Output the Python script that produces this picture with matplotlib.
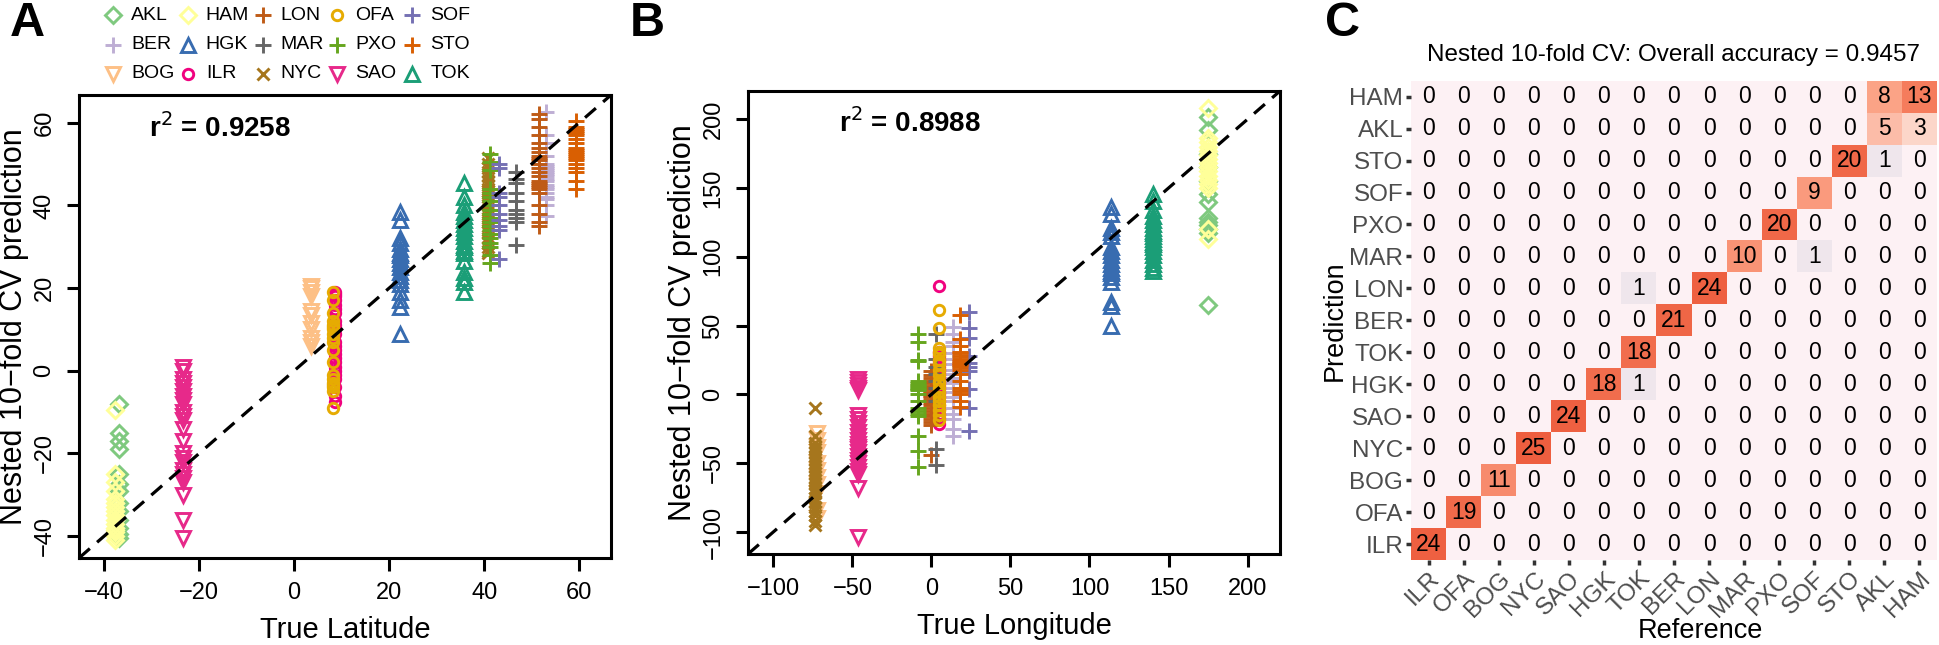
import numpy as np
import matplotlib.pyplot as plt
from matplotlib.lines import Line2D
from matplotlib.colors import LinearSegmentedColormap

plt.rcParams['font.family'] = ['Liberation Sans', 'DejaVu Sans']

# ---- data ----
cities = ["AKL", "BER", "BOG", "HAM", "HGK", "ILR", "LON", "MAR",
          "NYC", "OFA", "PXO", "SAO", "SOF", "STO", "TOK"]
true_lat = [-36.8, 53.0, 3.5, -37.8, 22.3, 8.5, 51.5, 46.6,
            40.7, 8.2, 41.2, -23.5, 43.2, 59.3, 35.7]
true_lon = [174.8, 13.4, -72.5, 175.0, 113.6, 4.6, -0.2, 3.0,
            -73.8, 4.5, -8.4, -46.2, 23.6, 18.1, 140.2]

akl_lat = [-8, -15, -17, -19, -25, -27.5, -29, -32, -34, -36, -38, -39.5, -40.5]
ber_lat = [62.5, 57, 55, 52, 50, 49.5, 49, 48.5, 48, 47.5, 47, 46.5, 46, 45, 44.5,
           44, 43, 42, 41.5, 40, 37.5]
bog_lat = [20.5, 20, 19, 18, 14.5, 13.5, 11.5, 10, 8, 7, 6]
ham_lat = [-9.5, -25, -27, -29, -31, -32, -33, -34, -35, -36, -37, -38, -38.5, -39, -40, -41]
hgk_lat = [38.5, 36.5, 32, 31, 29.5, 28.5, 28, 27, 26, 25, 24, 23, 22, 21, 19, 17, 15.5, 9]
ilr_lat = [19, 18.5, 18, 17, 16, 15, 14, 12, 11, 10, 9, 7, 6, 5, 4, 3, 2, 1, 0, -1,
           -2, -4, -6, -7.5]
lon_lat = [62, 61, 59, 57, 55, 54, 53, 52, 51.5, 51, 50, 49, 48, 47, 46, 45.5, 45,
           44.5, 44, 43, 40, 38, 36, 35]
mar_lat = [48, 46.5, 45.5, 43, 41, 39, 38, 37, 36, 30.5]
nyc_lat = [51.5, 50, 49, 48, 47, 46, 45, 44, 43.5, 43, 42, 41, 40, 39, 38, 37, 36, 35,
           34, 33.5, 32, 31, 30, 29, 28.5]
ofa_lat = [19, 17, 14, 12, 11, 10.5, 10, 9, 8, 7, 5, 2, -1, -2, -3, -3.5, -4, -5, -9]
pxo_lat = [52.5, 50.5, 48.5, 44, 43, 42, 41, 40, 39, 38, 37, 36, 35, 34, 33, 32, 31,
           30, 28, 26]
sao_lat = [1, 0, -2, -3, -4, -5, -6, -7, -8, -10, -11, -12, -14, -17, -20, -21, -22,
           -24, -25, -26, -27, -30, -36, -40.5]
sof_lat = [50, 49, 43, 42, 40, 38, 36.5, 35, 34, 27]
sto_lat = [60.5, 59, 58.5, 58, 57.5, 57, 56, 55, 54, 53.5, 53, 52.5, 52, 51.5, 51, 50,
           49, 48, 46, 44]
tok_lat = [45.5, 42, 40, 38.5, 37.5, 36.5, 35.5, 34.5, 33.5, 32.5, 31.5, 30.5, 30, 29,
           28.5, 26.5, 24, 22.5, 21.5, 19]

akl_lon = [201.5, 192.5, 175, 165, 155, 146, 140, 128, 125, 123, 120, 117, 65]
ber_lon = [49, 44, 38, 35, 30, 26, 22, 18, 15, 12, 10, 8, 5, 2, -2, -5, -10, -14, -18,
           -25, -30]
bog_lon = [-28, -33, -38, -42, -50, -55, -60, -65, -72, -84, -90]
ham_lon = [208, 186.5, 183.5, 180, 177, 174, 171, 168, 165, 162, 159, 156, 153, 150,
           120, 113]
hgk_lon = [136, 131, 121, 118, 115, 107, 104, 101, 98, 95, 92, 90, 88, 85, 82, 67, 64, 50]
ilr_lon = [79, 31, 28, 26, 24, 22, 20, 18, 16, 14, 12, 10, 8, 6, 4, 2, 0, -2, -5, -8,
           -11, -14, -17, -21.5]
lon_lon = [17, 14, 12, 10, 8, 6, 5, 4, 2, 1, 0, -1, -2, -4, -6, -8, -10, -12, -14, -16,
           -18, -20, -22, -44]
mar_lon = [44, 26, 20, 15, 10, 5, 0, -5, -39.5, -51]
nyc_lon = [-10, -30, -35, -38, -40, -42, -45, -47, -50, -52, -55, -57, -60, -62, -65,
           -68, -70, -72, -75, -78, -82, -85, -88, -92, -95]
ofa_lon = [61.5, 48, 34, 31, 29, 25, 22, 18, 14, 10, 8, 5, 2, -2, -5, -8, -11, -15, -18.5]
pxo_lon = [44, 38, 25, 24, 10, 8, 7, 6, 5, 4, 3, 0, -5, -10, -12, -14, -16, -30, -41, -53]
sao_lon = [11, 9, 7, 5, 3, -15, -18, -21, -24, -27, -30, -33, -36, -38, -40, -42, -45,
           -48, -50, -53, -56, -58, -68, -104]
sof_lon = [60, 48.5, 41, 28, 23, 20, 17, 4, -10, -26.5]
sto_lon = [58, 40, 35, 31, 30, 28, 26, 24, 23, 22, 21, 20, 18, 15, 10, 5, 2.5, 0, -5, -9.5]
tok_lon = [145.5, 140.5, 134, 130, 127, 124, 121, 119, 117, 115, 113, 111, 109, 107,
           104, 101, 98, 95, 92, 89.5]

r2_lat = 0.9258
r2_lon = 0.8988

# confusion matrix: rows = prediction, cols = reference, both in class_order
class_order = ["ILR", "OFA", "BOG", "NYC", "SAO", "HGK", "TOK", "BER",
               "LON", "MAR", "PXO", "SOF", "STO", "AKL", "HAM"]
conf_counts = [
    [24, 0, 0, 0, 0, 0, 0, 0, 0, 0, 0, 0, 0, 0, 0],
    [0, 19, 0, 0, 0, 0, 0, 0, 0, 0, 0, 0, 0, 0, 0],
    [0, 0, 11, 0, 0, 0, 0, 0, 0, 0, 0, 0, 0, 0, 0],
    [0, 0, 0, 25, 0, 0, 0, 0, 0, 0, 0, 0, 0, 0, 0],
    [0, 0, 0, 0, 24, 0, 0, 0, 0, 0, 0, 0, 0, 0, 0],
    [0, 0, 0, 0, 0, 18, 1, 0, 0, 0, 0, 0, 0, 0, 0],
    [0, 0, 0, 0, 0, 0, 18, 0, 0, 0, 0, 0, 0, 0, 0],
    [0, 0, 0, 0, 0, 0, 0, 21, 0, 0, 0, 0, 0, 0, 0],
    [0, 0, 0, 0, 0, 0, 1, 0, 24, 0, 0, 0, 0, 0, 0],
    [0, 0, 0, 0, 0, 0, 0, 0, 0, 10, 0, 1, 0, 0, 0],
    [0, 0, 0, 0, 0, 0, 0, 0, 0, 0, 20, 0, 0, 0, 0],
    [0, 0, 0, 0, 0, 0, 0, 0, 0, 0, 0, 9, 0, 0, 0],
    [0, 0, 0, 0, 0, 0, 0, 0, 0, 0, 0, 0, 20, 1, 0],
    [0, 0, 0, 0, 0, 0, 0, 0, 0, 0, 0, 0, 0, 5, 3],
    [0, 0, 0, 0, 0, 0, 0, 0, 0, 0, 0, 0, 0, 8, 13],
]
accuracy = 0.9457

lat_preds = [akl_lat, ber_lat, bog_lat, ham_lat, hgk_lat, ilr_lat, lon_lat, mar_lat,
             nyc_lat, ofa_lat, pxo_lat, sao_lat, sof_lat, sto_lat, tok_lat]
lon_preds = [akl_lon, ber_lon, bog_lon, ham_lon, hgk_lon, ilr_lon, lon_lon, mar_lon,
             nyc_lon, ofa_lon, pxo_lon, sao_lon, sof_lon, sto_lon, tok_lon]

# ---- style ----
city_colors = ["#7FC97F", "#BEAED4", "#FDC086", "#FFFF99", "#386CB0", "#F0027F",
               "#BF5B17", "#666666", "#A6761D", "#E6AB02", "#66A61E", "#E7298A",
               "#7570B3", "#D95F02", "#1B9E77"]
city_markers = ["D", "+", "v", "D", "^", "o", "+", "+", "x", "o", "+", "v", "+", "+", "^"]
msize = {"D": 8, "+": 12, "v": 10.5, "^": 10.5, "o": 7.5, "x": 8.5}

W, H = 1940, 645
fig = plt.figure(figsize=(W / 100, H / 100), dpi=100)


def fx(px):
    return px / W


def fy(py):
    return 1 - py / H


def scatter_panel(ax, truth, preds, lims, ticks, xlabel, r2, r2pos):
    for i in range(len(cities)):
        mk = city_markers[i]
        ax.plot(np.full(len(preds[i]), truth[i]), preds[i], linestyle="none",
                marker=mk, ms=msize[mk], mfc="none", mec=city_colors[i], mew=2.1)
    ax.axline((0, 0), slope=1, color="black", lw=2.3, ls=(0, (4.5, 3)))
    ax.set_xlim(lims)
    ax.set_ylim(lims)
    ax.set_xticks(ticks)
    ax.set_yticks(ticks)
    for s in ax.spines.values():
        s.set_linewidth(2.2)
    ax.tick_params(length=9, width=2.2, labelsize=17, pad=8)
    for lbl in ax.get_yticklabels():
        lbl.set_rotation(90)
        lbl.set_va("center")
    ax.set_xlabel(xlabel, fontsize=21, labelpad=9)
    ax.set_ylabel("Nested 10\u2212fold CV prediction", fontsize=22, labelpad=3)
    ax.text(r2pos[0], r2pos[1], "r$^2$ = %.4f" % r2, transform=ax.transAxes,
            fontsize=20, fontweight="bold", ha="center", va="center")


axA = fig.add_axes([fx(79), fy(558), fx(611 - 79), (558 - 95) / H])
scatter_panel(axA, true_lat, lat_preds, (-45.3, 66.7), [-40, -20, 0, 20, 40, 60],
              "True Latitude", r2_lat, (0.265, 0.929))

axB = fig.add_axes([fx(748), fy(554), fx(1280 - 748), (554 - 91) / H])
scatter_panel(axB, true_lon, lon_preds, (-116, 220.5), [-100, -50, 0, 50, 100, 150, 200],
              "True Longitude", r2_lon, (0.305, 0.931))

# legend, 3 rows x 5 columns, filled column-wise
for i, name in enumerate(cities):
    col, row = i // 3, i % 3
    x0 = 113 + col * 74.8
    y0 = 15 + row * 29.5
    mk = city_markers[i]
    fig.add_artist(Line2D([fx(x0)], [fy(y0)], transform=fig.transFigure, marker=mk,
                          ms=msize[mk], mfc="none", mec=city_colors[i], mew=2.1,
                          linestyle="none"))
    fig.text(fx(x0 + 18), fy(y0), name, fontsize=14, ha="left", va="center")

# ---- panel C ----
axC = fig.add_axes([fx(1411), fy(560), fx(1937 - 1411), (560 - 80.7) / H])
cmap = LinearSegmentedColormap.from_list(
    "conf", [(0.0, "#FDF1F4"), (0.02, "#FDF1F4"), (0.04, "#EEE6EC"), (0.12, "#FCD5C8"),
             (0.2, "#FCBCA8"), (0.32, "#FBA285"), (0.52, "#F57C5C"), (0.76, "#F06A4A"),
             (1.0, "#EE5E3F")])
mat = np.array(conf_counts)
n = len(class_order)
axC.pcolormesh(np.arange(n + 1) - 0.5, np.arange(n + 1) - 0.5, mat, cmap=cmap,
               vmin=0, vmax=25)
for r in range(n):
    for c in range(n):
        axC.text(c, r, str(mat[r, c]), ha="center", va="center", fontsize=16.5)
axC.set_xlim(-0.5, n - 0.5)
axC.set_ylim(-0.5, n - 0.5)
axC.set_xticks(range(n))
axC.set_yticks(range(n))
axC.set_xticklabels(class_order, rotation=45, ha="right", va="top",
                    rotation_mode="anchor")
axC.set_yticklabels(class_order)
axC.tick_params(length=3.5, width=2.5, color="#333333", labelsize=17.5,
                labelcolor="#4D4D4D", pad=2)
for s in axC.spines.values():
    s.set_visible(False)
axC.set_xlabel("Reference", fontsize=19.5, labelpad=0)
axC.xaxis.set_label_coords(0.55, -0.122)
axC.set_ylabel("Prediction", fontsize=19.5, labelpad=1)
axC.set_title("Nested 10-fold CV: Overall accuracy = %.4f" % accuracy, fontsize=17.5,
              pad=14)

# panel letters
fig.text(fx(10), fy(24), "A", fontsize=35, fontweight="bold", va="center")
fig.text(fx(630), fy(24), "B", fontsize=35, fontweight="bold", va="center")
fig.text(fx(1325), fy(24), "C", fontsize=35, fontweight="bold", va="center")

fig.savefig("out.png", dpi=100)
